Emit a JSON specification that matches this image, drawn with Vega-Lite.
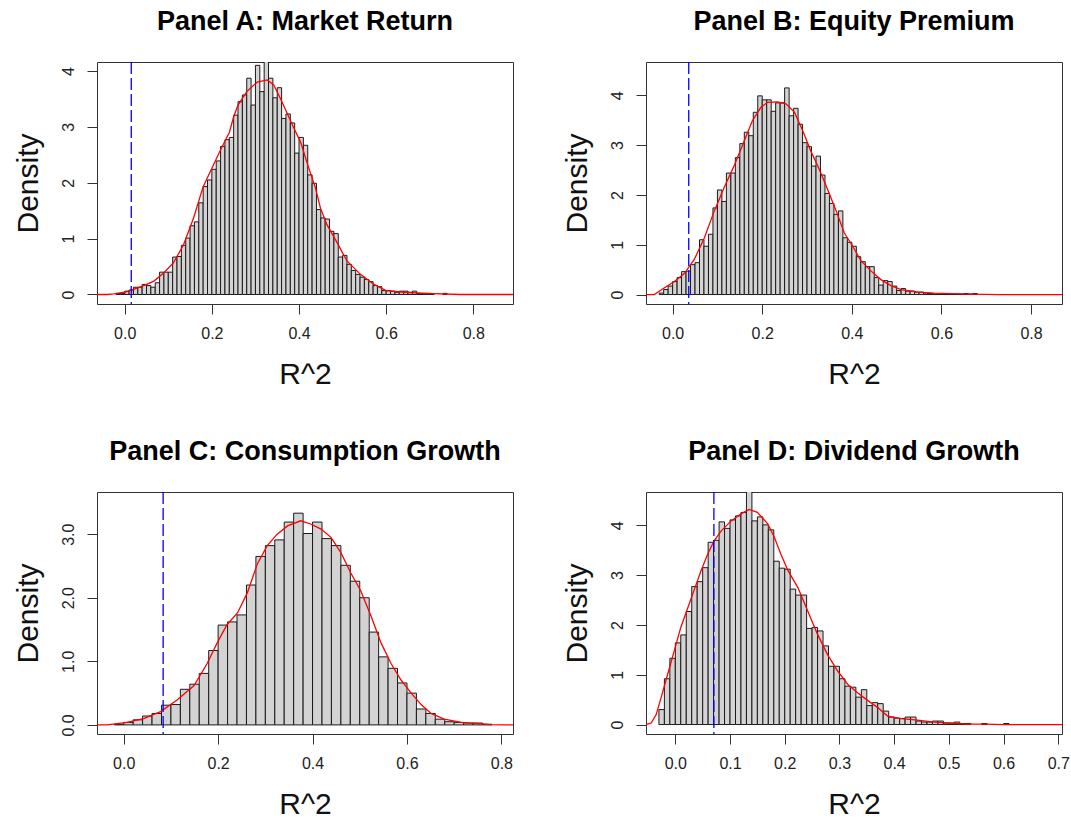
{
  "$schema": "https://vega.github.io/schema/vega-lite/v6.json",
  "background": "white",
  "padding": {"left": 12, "top": 7, "right": 0, "bottom": 0},
  "columns": 2,
  "spacing": {"row": 188, "column": 133},
  "bounds": "flush",
  "config": {
    "font": "Liberation Sans",
    "view": {"stroke": "#333", "strokeWidth": 1},
    "axis": {"domain": false, "grid": false, "tickSize": 10, "tickColor": "#333", "tickWidth": 1,
      "labelFont": "Liberation Sans", "labelFontSize": 16, "labelColor": "#222",
      "titleFont": "Liberation Sans", "titleFontSize": 30, "titleFontWeight": "normal", "titleColor": "#111"},
    "axisX": {"labelPadding": 11, "titlePadding": 18},
    "axisY": {"labelAngle": 270, "labelAlign": "center", "labelBaseline": "bottom", "labelPadding": 11, "titlePadding": 17},
    "title": {"font": "Liberation Sans", "fontSize": 27, "fontWeight": "bold", "color": "#000", "offset": 25, "anchor": "middle"}
  },
  "datasets": {
    "barsA": [
      {"r2": -0.02, "r2_end": -0.01, "density": 0.02}, {"r2": -0.01, "r2_end": 0.0, "density": 0.02},
      {"r2": 0.0, "r2_end": 0.01, "density": 0.06}, {"r2": 0.01, "r2_end": 0.02, "density": 0.08},
      {"r2": 0.02, "r2_end": 0.03, "density": 0.13}, {"r2": 0.03, "r2_end": 0.04, "density": 0.13},
      {"r2": 0.04, "r2_end": 0.05, "density": 0.18}, {"r2": 0.05, "r2_end": 0.06, "density": 0.16},
      {"r2": 0.06, "r2_end": 0.07, "density": 0.13}, {"r2": 0.07, "r2_end": 0.08, "density": 0.21},
      {"r2": 0.08, "r2_end": 0.09, "density": 0.40}, {"r2": 0.09, "r2_end": 0.10, "density": 0.40},
      {"r2": 0.10, "r2_end": 0.11, "density": 0.40}, {"r2": 0.11, "r2_end": 0.12, "density": 0.67},
      {"r2": 0.12, "r2_end": 0.13, "density": 0.68}, {"r2": 0.13, "r2_end": 0.14, "density": 0.88},
      {"r2": 0.14, "r2_end": 0.15, "density": 1.01}, {"r2": 0.15, "r2_end": 0.16, "density": 1.23},
      {"r2": 0.16, "r2_end": 0.17, "density": 1.30}, {"r2": 0.17, "r2_end": 0.18, "density": 1.64},
      {"r2": 0.18, "r2_end": 0.19, "density": 1.93}, {"r2": 0.19, "r2_end": 0.20, "density": 2.05},
      {"r2": 0.20, "r2_end": 0.21, "density": 2.24}, {"r2": 0.21, "r2_end": 0.22, "density": 2.39},
      {"r2": 0.22, "r2_end": 0.23, "density": 2.65}, {"r2": 0.23, "r2_end": 0.24, "density": 2.77},
      {"r2": 0.24, "r2_end": 0.25, "density": 2.81}, {"r2": 0.25, "r2_end": 0.26, "density": 3.21},
      {"r2": 0.26, "r2_end": 0.27, "density": 3.45}, {"r2": 0.27, "r2_end": 0.28, "density": 3.57},
      {"r2": 0.28, "r2_end": 0.29, "density": 3.87}, {"r2": 0.29, "r2_end": 0.30, "density": 3.39},
      {"r2": 0.30, "r2_end": 0.31, "density": 4.10}, {"r2": 0.31, "r2_end": 0.32, "density": 3.63},
      {"r2": 0.32, "r2_end": 0.33, "density": 4.30}, {"r2": 0.33, "r2_end": 0.34, "density": 3.87},
      {"r2": 0.34, "r2_end": 0.35, "density": 3.52}, {"r2": 0.35, "r2_end": 0.36, "density": 3.70},
      {"r2": 0.36, "r2_end": 0.37, "density": 3.15}, {"r2": 0.37, "r2_end": 0.38, "density": 3.23},
      {"r2": 0.38, "r2_end": 0.39, "density": 3.07}, {"r2": 0.39, "r2_end": 0.40, "density": 2.53},
      {"r2": 0.40, "r2_end": 0.41, "density": 2.81}, {"r2": 0.41, "r2_end": 0.42, "density": 2.67},
      {"r2": 0.42, "r2_end": 0.43, "density": 2.14}, {"r2": 0.43, "r2_end": 0.44, "density": 1.99},
      {"r2": 0.44, "r2_end": 0.45, "density": 1.52}, {"r2": 0.45, "r2_end": 0.46, "density": 1.37},
      {"r2": 0.46, "r2_end": 0.47, "density": 1.35}, {"r2": 0.47, "r2_end": 0.48, "density": 1.13},
      {"r2": 0.48, "r2_end": 0.49, "density": 1.09}, {"r2": 0.49, "r2_end": 0.50, "density": 0.67},
      {"r2": 0.50, "r2_end": 0.51, "density": 0.70}, {"r2": 0.51, "r2_end": 0.52, "density": 0.54},
      {"r2": 0.52, "r2_end": 0.53, "density": 0.43}, {"r2": 0.53, "r2_end": 0.54, "density": 0.36},
      {"r2": 0.54, "r2_end": 0.55, "density": 0.31}, {"r2": 0.55, "r2_end": 0.56, "density": 0.27},
      {"r2": 0.56, "r2_end": 0.57, "density": 0.23}, {"r2": 0.57, "r2_end": 0.58, "density": 0.16},
      {"r2": 0.58, "r2_end": 0.59, "density": 0.14}, {"r2": 0.59, "r2_end": 0.60, "density": 0.07},
      {"r2": 0.60, "r2_end": 0.61, "density": 0.07}, {"r2": 0.61, "r2_end": 0.62, "density": 0.06},
      {"r2": 0.62, "r2_end": 0.63, "density": 0.04}, {"r2": 0.63, "r2_end": 0.64, "density": 0.06},
      {"r2": 0.64, "r2_end": 0.65, "density": 0.06}, {"r2": 0.65, "r2_end": 0.66, "density": 0.04},
      {"r2": 0.66, "r2_end": 0.67, "density": 0.06}, {"r2": 0.67, "r2_end": 0.68, "density": 0.02},
      {"r2": 0.68, "r2_end": 0.69, "density": 0.02}, {"r2": 0.69, "r2_end": 0.70, "density": 0.02},
      {"r2": 0.70, "r2_end": 0.71, "density": 0.01}, {"r2": 0.73, "r2_end": 0.74, "density": 0.02}
    ],
    "curveA": [
      {"r2": -0.0636, "density": 0}, {"r2": -0.04, "density": 0}, {"r2": -0.025, "density": 0.01},
      {"r2": 0.0, "density": 0.04}, {"r2": 0.02, "density": 0.09}, {"r2": 0.044, "density": 0.16},
      {"r2": 0.067, "density": 0.24}, {"r2": 0.09, "density": 0.39}, {"r2": 0.112, "density": 0.57},
      {"r2": 0.135, "density": 0.89}, {"r2": 0.158, "density": 1.37}, {"r2": 0.18, "density": 1.93},
      {"r2": 0.2, "density": 2.26}, {"r2": 0.22, "density": 2.59}, {"r2": 0.24, "density": 2.9},
      {"r2": 0.25, "density": 3.18}, {"r2": 0.26, "density": 3.39}, {"r2": 0.28, "density": 3.63},
      {"r2": 0.304, "density": 3.8}, {"r2": 0.327, "density": 3.84}, {"r2": 0.342, "density": 3.75},
      {"r2": 0.357, "density": 3.51}, {"r2": 0.373, "density": 3.24}, {"r2": 0.388, "density": 2.98},
      {"r2": 0.403, "density": 2.74}, {"r2": 0.42, "density": 2.32}, {"r2": 0.438, "density": 1.9},
      {"r2": 0.449, "density": 1.55}, {"r2": 0.464, "density": 1.25}, {"r2": 0.488, "density": 0.92},
      {"r2": 0.51, "density": 0.6}, {"r2": 0.541, "density": 0.36}, {"r2": 0.572, "density": 0.18},
      {"r2": 0.6, "density": 0.07}, {"r2": 0.64, "density": 0.04}, {"r2": 0.69, "density": 0.02},
      {"r2": 0.77, "density": 0}, {"r2": 0.891, "density": 0}
    ],
    "barsB": [
      {"r2": -0.03, "r2_end": -0.02, "density": 0.03}, {"r2": -0.02, "r2_end": -0.01, "density": 0.10},
      {"r2": -0.01, "r2_end": 0.0, "density": 0.17}, {"r2": 0.0, "r2_end": 0.01, "density": 0.26},
      {"r2": 0.01, "r2_end": 0.02, "density": 0.34}, {"r2": 0.02, "r2_end": 0.03, "density": 0.46},
      {"r2": 0.03, "r2_end": 0.04, "density": 0.47}, {"r2": 0.04, "r2_end": 0.05, "density": 0.60},
      {"r2": 0.05, "r2_end": 0.06, "density": 0.64}, {"r2": 0.06, "r2_end": 0.07, "density": 1.10},
      {"r2": 0.07, "r2_end": 0.08, "density": 0.97}, {"r2": 0.08, "r2_end": 0.09, "density": 1.21},
      {"r2": 0.09, "r2_end": 0.10, "density": 1.74}, {"r2": 0.10, "r2_end": 0.11, "density": 2.10},
      {"r2": 0.11, "r2_end": 0.12, "density": 1.87}, {"r2": 0.12, "r2_end": 0.13, "density": 2.44},
      {"r2": 0.13, "r2_end": 0.14, "density": 2.44}, {"r2": 0.14, "r2_end": 0.15, "density": 2.75},
      {"r2": 0.15, "r2_end": 0.16, "density": 3.03}, {"r2": 0.16, "r2_end": 0.17, "density": 3.26},
      {"r2": 0.17, "r2_end": 0.18, "density": 3.19}, {"r2": 0.18, "r2_end": 0.19, "density": 3.66},
      {"r2": 0.19, "r2_end": 0.20, "density": 3.99}, {"r2": 0.20, "r2_end": 0.21, "density": 3.91},
      {"r2": 0.21, "r2_end": 0.22, "density": 3.91}, {"r2": 0.22, "r2_end": 0.23, "density": 3.68},
      {"r2": 0.23, "r2_end": 0.24, "density": 3.85}, {"r2": 0.24, "r2_end": 0.25, "density": 3.85},
      {"r2": 0.25, "r2_end": 0.26, "density": 4.15}, {"r2": 0.26, "r2_end": 0.27, "density": 3.59},
      {"r2": 0.27, "r2_end": 0.28, "density": 3.74}, {"r2": 0.28, "r2_end": 0.29, "density": 3.42},
      {"r2": 0.29, "r2_end": 0.30, "density": 3.05}, {"r2": 0.30, "r2_end": 0.31, "density": 2.97},
      {"r2": 0.31, "r2_end": 0.32, "density": 2.58}, {"r2": 0.32, "r2_end": 0.33, "density": 2.78},
      {"r2": 0.33, "r2_end": 0.34, "density": 2.40}, {"r2": 0.34, "r2_end": 0.35, "density": 2.03},
      {"r2": 0.35, "r2_end": 0.36, "density": 1.83}, {"r2": 0.36, "r2_end": 0.37, "density": 1.61},
      {"r2": 0.37, "r2_end": 0.38, "density": 1.68}, {"r2": 0.38, "r2_end": 0.39, "density": 1.14},
      {"r2": 0.39, "r2_end": 0.40, "density": 1.05}, {"r2": 0.40, "r2_end": 0.41, "density": 0.97},
      {"r2": 0.41, "r2_end": 0.42, "density": 0.76}, {"r2": 0.42, "r2_end": 0.43, "density": 0.66},
      {"r2": 0.43, "r2_end": 0.44, "density": 0.56}, {"r2": 0.44, "r2_end": 0.45, "density": 0.56},
      {"r2": 0.45, "r2_end": 0.46, "density": 0.34}, {"r2": 0.46, "r2_end": 0.47, "density": 0.19},
      {"r2": 0.47, "r2_end": 0.48, "density": 0.28}, {"r2": 0.48, "r2_end": 0.49, "density": 0.26},
      {"r2": 0.49, "r2_end": 0.50, "density": 0.17}, {"r2": 0.50, "r2_end": 0.51, "density": 0.08},
      {"r2": 0.51, "r2_end": 0.52, "density": 0.12}, {"r2": 0.52, "r2_end": 0.53, "density": 0.07},
      {"r2": 0.53, "r2_end": 0.54, "density": 0.07}, {"r2": 0.54, "r2_end": 0.55, "density": 0.05},
      {"r2": 0.55, "r2_end": 0.56, "density": 0.05}, {"r2": 0.56, "r2_end": 0.57, "density": 0.03},
      {"r2": 0.57, "r2_end": 0.58, "density": 0.02}, {"r2": 0.58, "r2_end": 0.59, "density": 0.01},
      {"r2": 0.59, "r2_end": 0.60, "density": 0.01}, {"r2": 0.60, "r2_end": 0.61, "density": 0.01},
      {"r2": 0.61, "r2_end": 0.62, "density": 0.01}, {"r2": 0.62, "r2_end": 0.63, "density": 0.01},
      {"r2": 0.63, "r2_end": 0.64, "density": 0.01}, {"r2": 0.64, "r2_end": 0.65, "density": 0.01},
      {"r2": 0.65, "r2_end": 0.66, "density": 0.02}, {"r2": 0.66, "r2_end": 0.67, "density": 0.01},
      {"r2": 0.67, "r2_end": 0.68, "density": 0.02}
    ],
    "curveB": [
      {"r2": -0.0594, "density": 0}, {"r2": -0.041, "density": 0}, {"r2": -0.019, "density": 0.13},
      {"r2": 0.004, "density": 0.26}, {"r2": 0.026, "density": 0.42}, {"r2": 0.048, "density": 0.7},
      {"r2": 0.071, "density": 1.14}, {"r2": 0.093, "density": 1.68}, {"r2": 0.115, "density": 2.15},
      {"r2": 0.138, "density": 2.6}, {"r2": 0.16, "density": 3.09}, {"r2": 0.178, "density": 3.49},
      {"r2": 0.197, "density": 3.76}, {"r2": 0.212, "density": 3.86}, {"r2": 0.234, "density": 3.87},
      {"r2": 0.253, "density": 3.83}, {"r2": 0.272, "density": 3.66}, {"r2": 0.29, "density": 3.3},
      {"r2": 0.309, "density": 2.87}, {"r2": 0.327, "density": 2.52}, {"r2": 0.346, "density": 2.11},
      {"r2": 0.365, "density": 1.68}, {"r2": 0.383, "density": 1.24}, {"r2": 0.402, "density": 0.97},
      {"r2": 0.42, "density": 0.68}, {"r2": 0.443, "density": 0.47}, {"r2": 0.465, "density": 0.3},
      {"r2": 0.487, "density": 0.18}, {"r2": 0.51, "density": 0.1}, {"r2": 0.547, "density": 0.05},
      {"r2": 0.584, "density": 0.03}, {"r2": 0.66, "density": 0.01}, {"r2": 0.73, "density": 0},
      {"r2": 0.869, "density": 0}
    ],
    "barsC": [
      {"r2": -0.02, "r2_end": 0.0, "density": 0.01}, {"r2": 0.0, "r2_end": 0.02, "density": 0.04},
      {"r2": 0.02, "r2_end": 0.04, "density": 0.08}, {"r2": 0.04, "r2_end": 0.06, "density": 0.14},
      {"r2": 0.06, "r2_end": 0.08, "density": 0.18}, {"r2": 0.08, "r2_end": 0.10, "density": 0.31},
      {"r2": 0.10, "r2_end": 0.12, "density": 0.32}, {"r2": 0.12, "r2_end": 0.14, "density": 0.56},
      {"r2": 0.14, "r2_end": 0.16, "density": 0.64}, {"r2": 0.16, "r2_end": 0.18, "density": 0.81},
      {"r2": 0.18, "r2_end": 0.20, "density": 1.17}, {"r2": 0.20, "r2_end": 0.22, "density": 1.57},
      {"r2": 0.22, "r2_end": 0.24, "density": 1.62}, {"r2": 0.24, "r2_end": 0.26, "density": 1.73},
      {"r2": 0.26, "r2_end": 0.28, "density": 2.20}, {"r2": 0.28, "r2_end": 0.30, "density": 2.65},
      {"r2": 0.30, "r2_end": 0.32, "density": 2.82}, {"r2": 0.32, "r2_end": 0.34, "density": 2.91},
      {"r2": 0.34, "r2_end": 0.36, "density": 3.19}, {"r2": 0.36, "r2_end": 0.38, "density": 3.33},
      {"r2": 0.38, "r2_end": 0.40, "density": 3.01}, {"r2": 0.40, "r2_end": 0.42, "density": 3.19},
      {"r2": 0.42, "r2_end": 0.44, "density": 2.93}, {"r2": 0.44, "r2_end": 0.46, "density": 2.82},
      {"r2": 0.46, "r2_end": 0.48, "density": 2.51}, {"r2": 0.48, "r2_end": 0.50, "density": 2.26},
      {"r2": 0.50, "r2_end": 0.52, "density": 2.00}, {"r2": 0.52, "r2_end": 0.54, "density": 1.46},
      {"r2": 0.54, "r2_end": 0.56, "density": 1.07}, {"r2": 0.56, "r2_end": 0.58, "density": 0.89},
      {"r2": 0.58, "r2_end": 0.60, "density": 0.66}, {"r2": 0.60, "r2_end": 0.62, "density": 0.50},
      {"r2": 0.62, "r2_end": 0.64, "density": 0.25}, {"r2": 0.64, "r2_end": 0.66, "density": 0.18},
      {"r2": 0.66, "r2_end": 0.68, "density": 0.09}, {"r2": 0.68, "r2_end": 0.70, "density": 0.05},
      {"r2": 0.70, "r2_end": 0.72, "density": 0.04}, {"r2": 0.72, "r2_end": 0.74, "density": 0.03},
      {"r2": 0.74, "r2_end": 0.76, "density": 0.03}, {"r2": 0.76, "r2_end": 0.78, "density": 0.01}
    ],
    "curveC": [
      {"r2": -0.0566, "density": 0}, {"r2": -0.035, "density": 0}, {"r2": 0.007, "density": 0.04},
      {"r2": 0.042, "density": 0.1}, {"r2": 0.078, "density": 0.21}, {"r2": 0.113, "density": 0.39},
      {"r2": 0.149, "density": 0.62}, {"r2": 0.177, "density": 0.97}, {"r2": 0.198, "density": 1.29},
      {"r2": 0.219, "density": 1.58}, {"r2": 0.241, "density": 1.76}, {"r2": 0.262, "density": 2.08},
      {"r2": 0.283, "density": 2.53}, {"r2": 0.304, "density": 2.82}, {"r2": 0.325, "density": 3.0},
      {"r2": 0.347, "density": 3.13}, {"r2": 0.375, "density": 3.21}, {"r2": 0.396, "density": 3.16},
      {"r2": 0.418, "density": 3.08}, {"r2": 0.439, "density": 2.95}, {"r2": 0.46, "density": 2.71},
      {"r2": 0.481, "density": 2.39}, {"r2": 0.502, "density": 2.11}, {"r2": 0.524, "density": 1.71},
      {"r2": 0.545, "density": 1.29}, {"r2": 0.566, "density": 0.97}, {"r2": 0.587, "density": 0.71},
      {"r2": 0.609, "density": 0.5}, {"r2": 0.63, "density": 0.32}, {"r2": 0.651, "density": 0.18},
      {"r2": 0.679, "density": 0.09}, {"r2": 0.715, "density": 0.04}, {"r2": 0.75, "density": 0.02},
      {"r2": 0.778, "density": 0.005}, {"r2": 0.8, "density": 0}, {"r2": 0.8246, "density": 0}
    ],
    "barsD": [
      {"r2": -0.03, "r2_end": -0.02, "density": 0.30}, {"r2": -0.02, "r2_end": -0.01, "density": 0.92},
      {"r2": -0.01, "r2_end": 0.0, "density": 1.33}, {"r2": 0.0, "r2_end": 0.01, "density": 1.64},
      {"r2": 0.01, "r2_end": 0.02, "density": 1.80}, {"r2": 0.02, "r2_end": 0.03, "density": 2.27},
      {"r2": 0.03, "r2_end": 0.04, "density": 2.77}, {"r2": 0.04, "r2_end": 0.05, "density": 2.87},
      {"r2": 0.05, "r2_end": 0.06, "density": 3.15}, {"r2": 0.06, "r2_end": 0.07, "density": 3.66},
      {"r2": 0.07, "r2_end": 0.08, "density": 3.70}, {"r2": 0.08, "r2_end": 0.09, "density": 4.07},
      {"r2": 0.09, "r2_end": 0.10, "density": 3.94}, {"r2": 0.10, "r2_end": 0.11, "density": 4.11},
      {"r2": 0.11, "r2_end": 0.12, "density": 4.19}, {"r2": 0.12, "r2_end": 0.13, "density": 4.26},
      {"r2": 0.13, "r2_end": 0.14, "density": 4.75}, {"r2": 0.14, "r2_end": 0.15, "density": 4.09},
      {"r2": 0.15, "r2_end": 0.16, "density": 4.17}, {"r2": 0.16, "r2_end": 0.17, "density": 4.01},
      {"r2": 0.17, "r2_end": 0.18, "density": 3.91}, {"r2": 0.18, "r2_end": 0.19, "density": 3.28},
      {"r2": 0.19, "r2_end": 0.20, "density": 3.14}, {"r2": 0.20, "r2_end": 0.21, "density": 3.12},
      {"r2": 0.21, "r2_end": 0.22, "density": 2.72}, {"r2": 0.22, "r2_end": 0.23, "density": 2.60},
      {"r2": 0.23, "r2_end": 0.24, "density": 2.60}, {"r2": 0.24, "r2_end": 0.25, "density": 1.93},
      {"r2": 0.25, "r2_end": 0.26, "density": 1.95}, {"r2": 0.26, "r2_end": 0.27, "density": 1.88},
      {"r2": 0.27, "r2_end": 0.28, "density": 1.58}, {"r2": 0.28, "r2_end": 0.29, "density": 1.17},
      {"r2": 0.29, "r2_end": 0.30, "density": 1.17}, {"r2": 0.30, "r2_end": 0.31, "density": 0.92},
      {"r2": 0.31, "r2_end": 0.32, "density": 0.77}, {"r2": 0.32, "r2_end": 0.33, "density": 0.75},
      {"r2": 0.33, "r2_end": 0.34, "density": 0.55}, {"r2": 0.34, "r2_end": 0.35, "density": 0.70},
      {"r2": 0.35, "r2_end": 0.36, "density": 0.38}, {"r2": 0.36, "r2_end": 0.37, "density": 0.44},
      {"r2": 0.37, "r2_end": 0.38, "density": 0.42}, {"r2": 0.38, "r2_end": 0.39, "density": 0.27},
      {"r2": 0.39, "r2_end": 0.40, "density": 0.15}, {"r2": 0.40, "r2_end": 0.41, "density": 0.13},
      {"r2": 0.41, "r2_end": 0.42, "density": 0.12}, {"r2": 0.42, "r2_end": 0.43, "density": 0.15},
      {"r2": 0.43, "r2_end": 0.44, "density": 0.15}, {"r2": 0.44, "r2_end": 0.45, "density": 0.07},
      {"r2": 0.45, "r2_end": 0.46, "density": 0.05}, {"r2": 0.46, "r2_end": 0.47, "density": 0.05},
      {"r2": 0.47, "r2_end": 0.48, "density": 0.07}, {"r2": 0.48, "r2_end": 0.49, "density": 0.07},
      {"r2": 0.49, "r2_end": 0.50, "density": 0.03}, {"r2": 0.50, "r2_end": 0.51, "density": 0.03},
      {"r2": 0.51, "r2_end": 0.52, "density": 0.05}, {"r2": 0.52, "r2_end": 0.53, "density": 0.02},
      {"r2": 0.53, "r2_end": 0.54, "density": 0.02}, {"r2": 0.56, "r2_end": 0.57, "density": 0.02},
      {"r2": 0.60, "r2_end": 0.61, "density": 0.02}
    ],
    "curveD": [
      {"r2": -0.0536, "density": 0}, {"r2": -0.044, "density": 0.03}, {"r2": -0.035, "density": 0.2},
      {"r2": -0.026, "density": 0.54}, {"r2": -0.014, "density": 1.01}, {"r2": -0.002, "density": 1.48},
      {"r2": 0.01, "density": 1.95}, {"r2": 0.023, "density": 2.35}, {"r2": 0.035, "density": 2.72},
      {"r2": 0.047, "density": 3.09}, {"r2": 0.059, "density": 3.42}, {"r2": 0.071, "density": 3.69},
      {"r2": 0.084, "density": 3.89}, {"r2": 0.102, "density": 4.09}, {"r2": 0.12, "density": 4.23},
      {"r2": 0.135, "density": 4.32}, {"r2": 0.15, "density": 4.26}, {"r2": 0.169, "density": 4.03},
      {"r2": 0.181, "density": 3.76}, {"r2": 0.193, "density": 3.42}, {"r2": 0.206, "density": 3.09},
      {"r2": 0.224, "density": 2.75}, {"r2": 0.242, "density": 2.28}, {"r2": 0.26, "density": 1.81},
      {"r2": 0.278, "density": 1.41}, {"r2": 0.297, "density": 1.07}, {"r2": 0.315, "density": 0.81},
      {"r2": 0.333, "density": 0.64}, {"r2": 0.352, "density": 0.48}, {"r2": 0.37, "density": 0.34},
      {"r2": 0.388, "density": 0.17}, {"r2": 0.413, "density": 0.12}, {"r2": 0.443, "density": 0.09},
      {"r2": 0.473, "density": 0.05}, {"r2": 0.504, "density": 0.03}, {"r2": 0.534, "density": 0.01},
      {"r2": 0.565, "density": 0.007}, {"r2": 0.6, "density": 0}, {"r2": 0.7068, "density": 0}
    ]
  },
  "concat": [
    {
      "width": 416, "height": 242,
      "title": {"text": "Panel A: Market Return"},
      "layer": [
        {"data": {"name": "barsA"},
         "mark": {"type": "rect", "fill": "#d3d3d3", "stroke": "#1a1a1a", "strokeWidth": 1, "clip": true},
         "encoding": {
           "x": {"field": "r2", "type": "quantitative", "scale": {"domain": [-0.0636, 0.891], "nice": false, "zero": false},
                 "axis": {"values": [0, 0.2, 0.4, 0.6, 0.8], "format": ".1f", "title": "R^2"}},
           "x2": {"field": "r2_end"},
           "y": {"field": "density", "type": "quantitative", "scale": {"domain": [-0.17, 4.16], "nice": false, "zero": false},
                 "axis": {"values": [0, 1, 2, 3, 4], "format": "d", "title": "Density"}},
           "y2": {"datum": 0}
         }},
        {"data": {"name": "curveA"},
         "mark": {"type": "line", "color": "#ff0000", "strokeWidth": 1.3, "clip": true},
         "encoding": {"x": {"field": "r2", "type": "quantitative"}, "y": {"field": "density", "type": "quantitative"}}},
        {"data": {"values": [{"r2": 0.015}]},
         "mark": {"type": "rule", "color": "#0000ff", "strokeWidth": 1.3, "strokeDash": [12, 4]},
         "encoding": {"x": {"field": "r2", "type": "quantitative"}}}
      ]
    },
    {
      "width": 416, "height": 242,
      "title": {"text": "Panel B: Equity Premium"},
      "layer": [
        {"data": {"name": "barsB"},
         "mark": {"type": "rect", "fill": "#d3d3d3", "stroke": "#1a1a1a", "strokeWidth": 1, "clip": true},
         "encoding": {
           "x": {"field": "r2", "type": "quantitative", "scale": {"domain": [-0.0594, 0.869], "nice": false, "zero": false},
                 "axis": {"values": [0, 0.2, 0.4, 0.6, 0.8], "format": ".1f", "title": "R^2"}},
           "x2": {"field": "r2_end"},
           "y": {"field": "density", "type": "quantitative", "scale": {"domain": [-0.19, 4.67], "nice": false, "zero": false},
                 "axis": {"values": [0, 1, 2, 3, 4], "format": "d", "title": "Density"}},
           "y2": {"datum": 0}
         }},
        {"data": {"name": "curveB"},
         "mark": {"type": "line", "color": "#ff0000", "strokeWidth": 1.3, "clip": true},
         "encoding": {"x": {"field": "r2", "type": "quantitative"}, "y": {"field": "density", "type": "quantitative"}}},
        {"data": {"values": [{"r2": 0.036}]},
         "mark": {"type": "rule", "color": "#0000ff", "strokeWidth": 1.3, "strokeDash": [12, 4]},
         "encoding": {"x": {"field": "r2", "type": "quantitative"}}}
      ]
    },
    {
      "width": 416, "height": 242,
      "title": {"text": "Panel C: Consumption Growth"},
      "layer": [
        {"data": {"name": "barsC"},
         "mark": {"type": "rect", "fill": "#d3d3d3", "stroke": "#1a1a1a", "strokeWidth": 1, "clip": true},
         "encoding": {
           "x": {"field": "r2", "type": "quantitative", "scale": {"domain": [-0.0566, 0.8246], "nice": false, "zero": false},
                 "axis": {"values": [0, 0.2, 0.4, 0.6, 0.8], "format": ".1f", "title": "R^2"}},
           "x2": {"field": "r2_end"},
           "y": {"field": "density", "type": "quantitative", "scale": {"domain": [-0.143, 3.663], "nice": false, "zero": false},
                 "axis": {"values": [0, 0.5, 1, 1.5, 2, 2.5, 3, 3.5], "labelExpr": "datum.value % 1 == 0 ? format(datum.value, '.1f') : ''", "title": "Density"}},
           "y2": {"datum": 0}
         }},
        {"data": {"name": "curveC"},
         "mark": {"type": "line", "color": "#ff0000", "strokeWidth": 1.3, "clip": true},
         "encoding": {"x": {"field": "r2", "type": "quantitative"}, "y": {"field": "density", "type": "quantitative"}}},
        {"data": {"values": [{"r2": 0.0835}]},
         "mark": {"type": "rule", "color": "#0000ff", "strokeWidth": 1.3, "strokeDash": [12, 4]},
         "encoding": {"x": {"field": "r2", "type": "quantitative"}}}
      ]
    },
    {
      "width": 416, "height": 242,
      "title": {"text": "Panel D: Dividend Growth"},
      "layer": [
        {"data": {"name": "barsD"},
         "mark": {"type": "rect", "fill": "#d3d3d3", "stroke": "#1a1a1a", "strokeWidth": 1, "clip": true},
         "encoding": {
           "x": {"field": "r2", "type": "quantitative", "scale": {"domain": [-0.0536, 0.7068], "nice": false, "zero": false},
                 "axis": {"values": [0, 0.1, 0.2, 0.3, 0.4, 0.5, 0.6, 0.7], "format": ".1f", "title": "R^2"}},
           "x2": {"field": "r2_end"},
           "y": {"field": "density", "type": "quantitative", "scale": {"domain": [-0.19, 4.67], "nice": false, "zero": false},
                 "axis": {"values": [0, 1, 2, 3, 4], "format": "d", "title": "Density"}},
           "y2": {"datum": 0}
         }},
        {"data": {"name": "curveD"},
         "mark": {"type": "line", "color": "#ff0000", "strokeWidth": 1.3, "clip": true},
         "encoding": {"x": {"field": "r2", "type": "quantitative"}, "y": {"field": "density", "type": "quantitative"}}},
        {"data": {"values": [{"r2": 0.0705}]},
         "mark": {"type": "rule", "color": "#0000ff", "strokeWidth": 1.3, "strokeDash": [12, 4]},
         "encoding": {"x": {"field": "r2", "type": "quantitative"}}}
      ]
    }
  ]
}
